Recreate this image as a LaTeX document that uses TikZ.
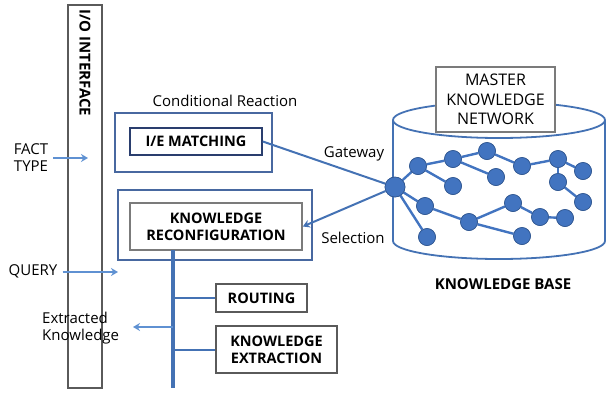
\documentclass[tikz,border=0pt]{standalone}
\usepackage{fontspec}
\setmainfont{Open Sans}
\usetikzlibrary{positioning,arrows.meta}
\definecolor{kbblue}{RGB}{68,114,180}
\definecolor{arrowblue}{RGB}{95,145,210}
\definecolor{boxblue}{RGB}{72,104,160}
\definecolor{navyblue}{RGB}{42,62,110}
\definecolor{netblue}{RGB}{66,116,192}
\definecolor{iogray}{RGB}{90,90,90}
\tikzset{
	boldlabel/.style={font=\bfseries\fontsize{15}{17}\selectfont, align=center, inner sep=0pt},
	plainlabel/.style={font=\fontsize{15}{17}\selectfont, align=center, inner sep=0pt},
	outerbox/.style={draw=boxblue, line width=2.4pt, inner sep=0pt},
	innerbox/.style={draw=#1, line width=1.6pt, inner sep=0pt, font=\bfseries\fontsize{14.5}{17}\selectfont, align=center},
	link/.style={draw=kbblue, line width=2pt},
	inarrow/.style={draw=arrowblue, line width=2pt, -{Stealth[length=7pt,width=8pt]}},
	netnode/.style={circle, fill=netblue, draw=netblue!75!black, line width=0.6pt, minimum size=17pt, inner sep=0pt},
	netedge/.style={draw=netblue, line width=2.4pt},
	cylline/.style={draw=kbblue, line width=1.8pt}
}
\begin{document}
\begin{tikzpicture}[x=1pt,y=-1pt]
	\useasboundingbox (0,0) rectangle (608,392);
	% I/O interface
	\node[draw=iogray, line width=1.2pt, minimum width=34pt, minimum height=383pt, inner sep=0pt] (io) at (85,196.5) {};
	\node[boldlabel, rotate=-90, anchor=west] (iolabel) at (85,9) {I/O INTERFACE};
	% Inputs and outputs
	\node[plainlabel] (fact) at (31,158) {FACT\\TYPE};
	\coordinate (factin) at (88,158);
	\draw[inarrow] (fact.east) ++(5,0) -- (factin);
	\node[plainlabel] (query) at (33,271) {QUERY};
	\coordinate (queryin) at (118,272);
	\draw[inarrow] (query.east |- queryin) ++(5,0) -- (queryin);
	\node[plainlabel, align=left, anchor=west] (extracted) at (42,328) {Extracted\\Knowledge};
	% Conditional reaction
	\node[plainlabel] (condlabel) at (225,101) {Conditional Reaction};
	\node[outerbox, minimum width=157pt, minimum height=59pt] (cond) at (193.5,142.5) {};
	\node[innerbox=navyblue, minimum width=132pt, minimum height=27pt] (match) at (196,141.5) {I/E MATCHING};
	% Reconfiguration
	\node[outerbox, minimum width=194pt, minimum height=70pt] (reconout) at (215,225) {};
	\node[innerbox=iogray!80, minimum width=172pt, minimum height=47pt] (recon) at (216,226.5) {KNOWLEDGE\\RECONFIGURATION};
	\node[innerbox=iogray, line width=1.4pt, minimum width=91pt, minimum height=28pt] (routing) at (261.5,298) {ROUTING};
	\node[innerbox=iogray, line width=1.4pt, minimum width=121pt, minimum height=47pt] (extraction) at (276.5,349.5) {KNOWLEDGE\\EXTRACTION};
	% Spine
	\coordinate (spinetop) at (173,250);
	\coordinate (spinebot) at (173,388);
	\coordinate (outtip) at (133,327);
	\draw[kbblue, line width=3.4pt] (spinetop) -- (spinebot);
	\draw[link] (routing.west -| spinetop) -- (routing.west);
	\draw[link] (extraction.west -| spinetop) -- (extraction.west);
	\draw[inarrow] (outtip -| spinetop) -- (outtip);
	% Knowledge base
	\draw[cylline] (499,120) ellipse [x radius=106, y radius=18];
	\draw[cylline] (393,120) -- (393,241) arc [start angle=180, end angle=0, x radius=106, y radius=18] -- (605,120);
	\node[boldlabel] (kb) at (503,284) {KNOWLEDGE BASE};
	% Network
	\node[netnode, minimum size=20pt] (hub) at (395,187) {};
	\node[netnode] (n1) at (418,166) {};
	\node[netnode] (n2) at (453,159) {};
	\node[netnode] (n3) at (487,151) {};
	\node[netnode] (n4) at (453,186) {};
	\node[netnode] (n5) at (496,177) {};
	\node[netnode] (n6) at (522,166) {};
	\node[netnode] (n7) at (558,159) {};
	\node[netnode] (n8) at (583,171) {};
	\node[netnode] (n9) at (558,182) {};
	\node[netnode] (n10) at (583,202) {};
	\node[netnode] (n11) at (425,206) {};
	\node[netnode] (n12) at (469,222) {};
	\node[netnode] (n13) at (513,203) {};
	\node[netnode] (n14) at (540,217) {};
	\node[netnode] (n15) at (565,218) {};
	\node[netnode] (n16) at (522,236) {};
	\node[netnode] (n17) at (427,237) {};
	\foreach \a/\b in {hub/n1,n1/n2,n2/n3,n2/n5,n1/n4,n3/n6,n6/n7,n7/n8,n7/n9,n9/n10,hub/n11,n11/n12,n12/n13,n13/n14,n14/n15,n12/n16,hub/n17}
		\draw[netedge] (\a) -- (\b);
	\foreach \n in {n1,n2,n3,n4,n5,n6,n7,n8,n9,n10,n11,n12,n13,n14,n15,n16,n17}
		\node[netnode] at (\n) {};
	\node[netnode, minimum size=20pt] at (hub) {};
	\node[draw=iogray!80, line width=1.2pt, fill=white, minimum width=119pt, minimum height=65pt, inner sep=0pt, align=center, font=\fontsize{16}{19.5}\selectfont] (master) at (495.5,99.5) {MASTER\\KNOWLEDGE\\NETWORK};
	% Gateway and selection
	\draw[link] (match.east) -- (hub);
	\draw[link, -{Stealth[length=7pt,width=8pt]}] (hub) -- (recon.east);
	\node[plainlabel] (gateway) at (354,154) {Gateway};
	\node[plainlabel] (selection) at (353,238) {Selection};
\end{tikzpicture}
\end{document}
